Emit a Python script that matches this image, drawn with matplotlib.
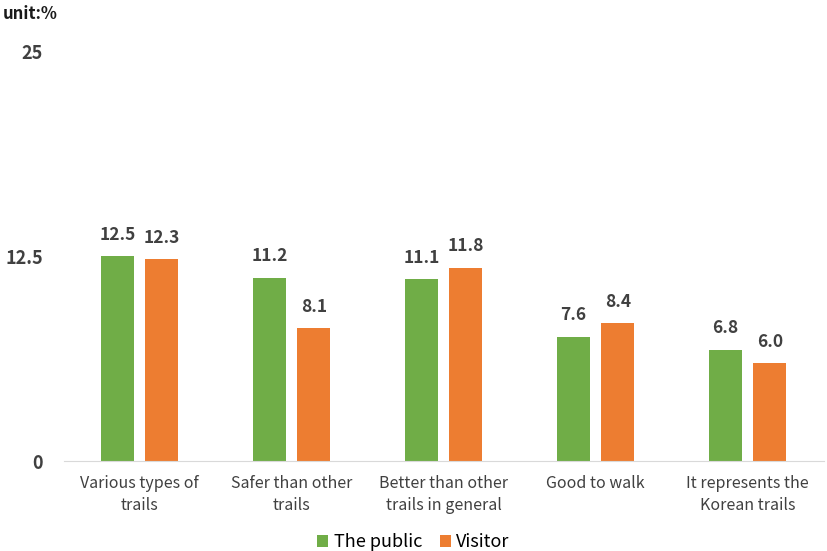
import matplotlib.pyplot as plt
import numpy as np

plt.rcParams['font.family'] = ['Noto Sans CJK KR', 'DejaVu Sans']

categories = ['Various types of\ntrails', 'Safer than other\ntrails', 'Better than other\ntrails in general',
              'Good to walk', 'It represents the\nKorean trails']
public = [12.5, 11.2, 11.1, 7.6, 6.8]
visitor = [12.3, 8.1, 11.8, 8.4, 6.0]
yticks = [0, 12.5, 25]

green = '#70AD47'
orange = '#ED7D31'

fig = plt.figure(figsize=(8.27, 5.51), dpi=100)
ax = fig.add_axes([0.077, 0.163, 0.919, 0.744])

x = np.arange(len(categories))
w = 0.218
off = 0.145
b1 = ax.bar(x - off, public, w, color=green, label='The public')
b2 = ax.bar(x + off, visitor, w, color=orange, label='Visitor')

for bars, vals in ((b1, public), (b2, visitor)):
    for r, v in zip(bars, vals):
        ax.text(r.get_x() + r.get_width() / 2, v + 0.75, f'{v:.1f}', ha='center', va='bottom',
                fontsize=12.5, fontweight='bold', color='#404040')

ax.set_xlim(-0.5, len(categories) - 0.5)
ax.set_ylim(0, 25)
ax.set_yticks(yticks)
ax.set_yticklabels(['0', '12.5', '25'], fontsize=13, fontweight='bold', color='#404040')
ax.set_xticks(x)
ax.set_xticklabels(categories, fontsize=11.5, color='#404040', linespacing=1.4)
ax.tick_params(length=0)
ax.tick_params(axis='y', pad=15)
ax.tick_params(axis='x', pad=10)

for s in ['top', 'right', 'left']:
    ax.spines[s].set_visible(False)
ax.spines['bottom'].set_color('#D9D9D9')

fig.text(0.003, 0.975, 'unit:%', fontsize=12, fontweight='bold', color='#1a1a1a', va='center')

fig.legend(loc='lower center', bbox_to_anchor=(0.5, -0.03), ncol=2, frameon=False,
           fontsize=13, handlelength=0.6, handleheight=0.6, handletextpad=0.3, columnspacing=1.0)

fig.savefig('out.png', dpi=100)
